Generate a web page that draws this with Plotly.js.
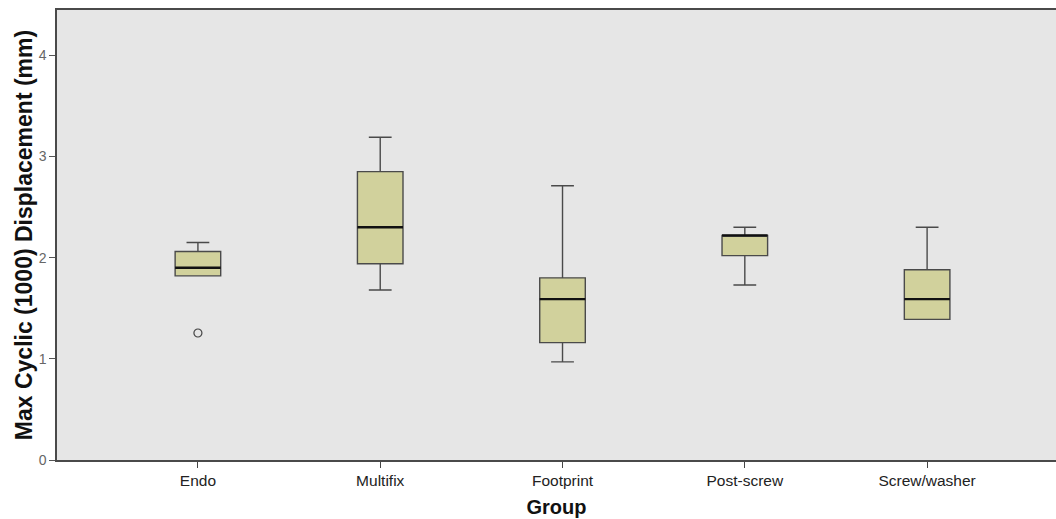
<!DOCTYPE html>
<html>
<head>
<meta charset="utf-8">
<script src="https://cdn.plot.ly/plotly-3.0.1.min.js"></script>
<style>html,body{margin:0;padding:0;background:#fff;}#chart{width:1056px;height:519px;}</style>
</head>
<body>
<div id="chart"></div>
<script>
const groups = ['Endo', 'Multifix', 'Footprint', 'Post-screw', 'Screw/washer'];
const lowerWhisker = [1.82, 1.68, 0.97, 1.73, 1.39];
const q1 = [1.82, 1.94, 1.16, 2.02, 1.39];
const median = [1.90, 2.30, 1.59, 2.22, 1.59];
const q3 = [2.06, 2.85, 1.80, 2.22, 1.88];
const upperWhisker = [2.15, 3.19, 2.71, 2.30, 2.30];
const outlierGroup = ['Endo'];
const outlierValue = [1.255];
const yTicks = [0, 1, 2, 3, 4];

const fam = 'Liberation Sans, Arial, sans-serif';

const boxTrace = {
  type: 'box',
  x: groups,
  q1: q1,
  median: median,
  q3: q3,
  lowerfence: lowerWhisker,
  upperfence: upperWhisker,
  width: 0.25,
  whiskerwidth: 0.5,
  fillcolor: '#D1D19C',
  line: {color: '#4a4a4a', width: 1.4},
  boxpoints: false,
  hoverinfo: 'skip',
  showlegend: false
};
const medianTrace = {
  type: 'box',
  x: groups,
  q1: median,
  median: median,
  q3: median,
  lowerfence: median,
  upperfence: median,
  width: 0.25,
  whiskerwidth: 0,
  fillcolor: 'rgba(0,0,0,0)',
  line: {color: '#111111', width: 2.4},
  boxpoints: false,
  hoverinfo: 'skip',
  showlegend: false
};
const outlierTrace = {
  type: 'scatter',
  mode: 'markers',
  x: outlierGroup,
  y: outlierValue,
  marker: {symbol: 'circle-open', size: 8, color: '#444444', line: {width: 1.2, color: '#444444'}},
  hoverinfo: 'skip',
  showlegend: false
};

const layout = {
  width: 1056,
  height: 519,
  margin: {l: 57, r: 0, t: 10, b: 59},
  paper_bgcolor: '#ffffff',
  plot_bgcolor: '#E6E6E6',
  font: {family: fam, color: '#222222'},
  showlegend: false,
  xaxis: {
    type: 'category',
    categoryorder: 'array',
    categoryarray: groups,
    range: [-0.773, 4.707],
    showgrid: false,
    zeroline: false,
    showline: true,
    mirror: true,
    linecolor: '#4a4a4a',
    linewidth: 1.6,
    ticks: 'outside',
    ticklen: 6,
    tickcolor: '#444444',
    tickfont: {size: 15.5, color: '#222222', family: fam},
    title: {text: 'Group', font: {size: 20, color: '#111111', family: fam, weight: 'bold'}, standoff: 12}
  },
  yaxis: {
    range: [0, 4.447],
    tickvals: yTicks,
    ticktext: yTicks.map(String),
    showgrid: false,
    zeroline: false,
    showline: true,
    mirror: true,
    linecolor: '#4a4a4a',
    linewidth: 1.6,
    ticks: 'outside',
    ticklen: 6,
    tickcolor: '#555555',
    tickfont: {size: 14, color: '#666666', family: fam},
    title: {text: 'Max Cyclic (1000) Displacement (mm)', font: {size: 23, color: '#111111', family: fam, weight: 'bold'}, standoff: 0}
  }
};

Plotly.newPlot('chart', [boxTrace, medianTrace, outlierTrace], layout, {displayModeBar: false, staticPlot: true});
</script>
</body>
</html>
